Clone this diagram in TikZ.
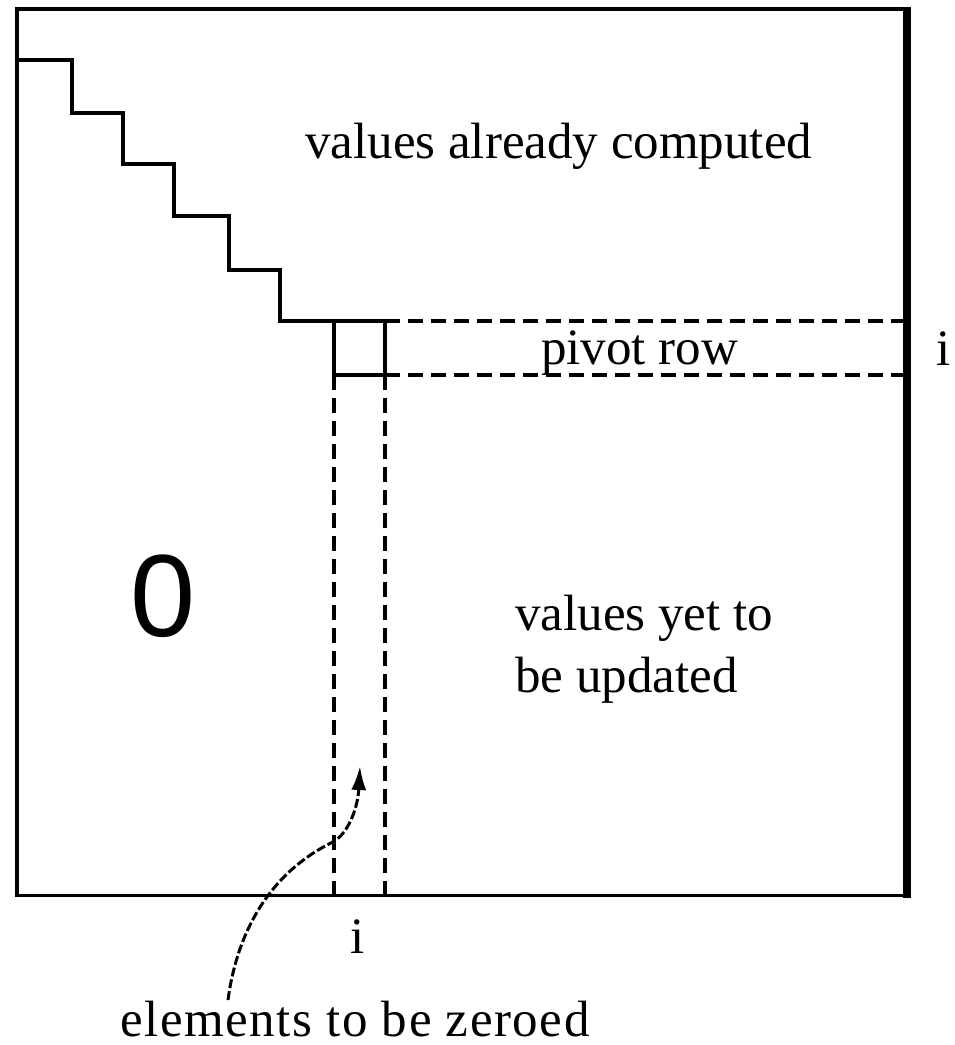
\documentclass[tikz,border=0pt]{standalone}
\usepackage{fontspec}
\setmainfont{Liberation Serif}
\newfontfamily\zerofont{Liberation Sans}
\usetikzlibrary{arrows.meta}
\tikzset{
  frame/.style={line width=3.8pt, line cap=rect},
  heavy/.style={line width=8pt},
  solidline/.style={line width=3.6pt},
  dashline/.style={line width=3.6pt, dash pattern=on 15pt off 8pt},
  lbl/.style={inner sep=0pt, font=\fontsize{51}{60}\selectfont},
  zerolbl/.style={inner sep=0pt, font=\zerofont\fontsize{117}{130}\selectfont},
  curvearrow/.style={line width=3pt, dash pattern=on 9pt off 3pt, -{Latex[length=24pt,width=15pt]}}
}
\begin{document}
\begin{tikzpicture}[x=1pt,y=-1pt]
\useasboundingbox (0,0) rectangle (955,1045);
% outer frame
\coordinate (tl) at (17,9);
\coordinate (tr) at (907,9);
\coordinate (br) at (907,895.5);
\coordinate (bl) at (17,895.5);
\draw[frame] (tr) -- (tl) -- (bl) -- (br);
\draw[heavy] (907,7) -- (907,898);
% staircase
\coordinate (s0) at (17,60);
\coordinate (bx1) at (334,321);
\coordinate (bx2) at (385,321);
\coordinate (bx3) at (385,375);
\coordinate (bx4) at (334,375);
\draw[solidline] (s0) -- (72,60) -- (72,113) -- (123,113) -- (123,164) -- (174,164)
  -- (174,216) -- (229,216) -- (229,270) -- (280,270) -- (280,321) -- (bx1) -- (bx2);
% pivot box
\draw[solidline] (bx1) -- (bx4) -- (bx3) -- (bx2);
% pivot row dashed
\coordinate (pr1) at (903,321);
\coordinate (pr2) at (903,375);
\draw[dashline] (bx2) -- (pr1);
\draw[dashline] (bx3) -- (pr2);
% column dashed
\coordinate (c1) at (334,894);
\coordinate (c2) at (385,894);
\draw[dashline] (bx4) -- (c1);
\draw[dashline] (bx3) -- (c2);
% labels
\node[lbl, anchor=base west] (computed) at (305,158) {values already computed};
\node[lbl, anchor=base west] (pivot) at (541,364) {pivot row};
\node[lbl, anchor=base] (irow) at (944,365) {i};
\node[zerolbl] (zero) at (163,596) {0};
\node[lbl, anchor=base west] (yet1) at (515,630) {values yet to};
\node[lbl, anchor=base west] (yet2) at (515,692) {be updated};
\node[lbl, anchor=base] (icol) at (358,953) {i};
\node[lbl, anchor=base west] (zeroed) at (120,1036) {\addfontfeatures{LetterSpace=3}elements to be zeroed};
% arrow
\coordinate (astart) at (228,1000);
\coordinate (amid) at (333,842);
\coordinate (atip) at (360,766);
\draw[curvearrow] (astart) .. controls (238,925) and (275,870) .. (amid)
  .. controls (350,832) and (358,805) .. (atip);
\end{tikzpicture}
\end{document}
